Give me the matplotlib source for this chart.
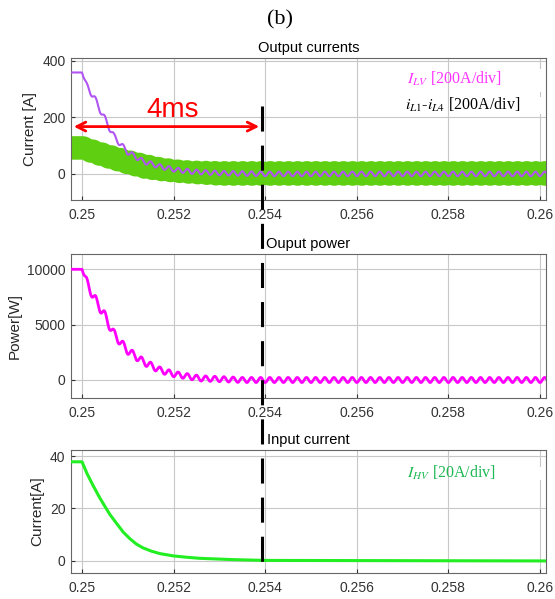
"""Fig (b): load-step transient - output currents, output power, input current."""
import matplotlib
matplotlib.use("Agg")
import matplotlib.pyplot as plt
from matplotlib.lines import Line2D
from matplotlib.patches import Rectangle
import numpy as np

plt.rcParams["font.family"] = ["Liberation Sans", "DejaVu Sans"]
plt.rcParams["mathtext.fontset"] = "stix"

# ---- values (time in s) ----
ripple_period = 0.0002

t_ilv = [0.2497, 0.2500, 0.2501, 0.25025, 0.25047, 0.2507, 0.25098, 0.25134, 0.2517, 0.25206, 0.2524, 0.2530, 0.2540, 0.2602]
ilv_mean = [358, 358, 312, 274, 203, 132, 79, 44, 26, 14, 8, 3, 0, 0]
ilv_ripple = [0, 0, 10, 11, 11, 10, 9, 8, 8, 8, 8, 8, 8, 8]

t_band = [0.2497, 0.2500, 0.25025, 0.2506, 0.25098, 0.25134, 0.2517, 0.25206, 0.2524, 0.2530, 0.2602]
band_upper = [135, 135, 121, 103, 85, 71, 58, 50, 46, 44, 44]
band_lower = [52, 52, 38, 20, 2, -13, -21, -27, -31, -37, -37]
band_ripple = 3

t_pow = [0.2497, 0.2500, 0.2501, 0.25025, 0.25047, 0.25069, 0.25098, 0.25134, 0.2517, 0.2520, 0.25257, 0.2535, 0.2602]
pow_mean = [10000, 10000, 8900, 7520, 6020, 4210, 2710, 1650, 900, 540, 150, 0, 0]
pow_ripple = [0, 0, 350, 400, 400, 380, 330, 300, 270, 250, 240, 230, 230]

t_ihv = [0.2497, 0.2500, 0.25005, 0.25011, 0.25025, 0.25039, 0.2505, 0.25061, 0.25076, 0.2509, 0.25105,
         0.25119, 0.25133, 0.25152, 0.2517, 0.2520, 0.25229, 0.25257, 0.2533, 0.2540, 0.2602]
ihv = [37.8, 37.8, 35.8, 33.3, 28.5, 24.0, 20.8, 17.7, 14.2, 11.0, 8.4,
       6.4, 5.0, 3.7, 2.8, 1.9, 1.4, 1.0, 0.5, 0.2, 0.0]

xticks = [0.25, 0.252, 0.254, 0.256, 0.258, 0.26]
xticklabels = ["0.25", "0.252", "0.254", "0.256", "0.258", "0.26"]
t_step_end = 0.25393

# ---- waveforms (mean trace + switching ripple) ----
t = np.linspace(0.2497, 0.2602, 5000)
ph = np.sin(2 * np.pi * (t - 0.25) / ripple_period - np.pi / 2)
ilv_w = np.interp(t, t_ilv, ilv_mean) + np.interp(t, t_ilv, ilv_ripple) * ph
pow_w = np.interp(t, t_pow, pow_mean) + np.interp(t, t_pow, pow_ripple) * ph
on = (t > 0.25).astype(float)
up_w = np.interp(t, t_band, band_upper) + band_ripple * on * np.abs(np.sin(np.pi * (t - 0.25) / ripple_period))
lo_w = np.interp(t, t_band, band_lower) - band_ripple * on * np.abs(np.sin(np.pi * (t - 0.25) / ripple_period))

fig = plt.figure(figsize=(5.55, 5.99), dpi=100)
W, H = 555, 599
ax1 = fig.add_axes([71 / W, 1 - 200 / H, 475 / W, 142 / H])
ax2 = fig.add_axes([71 / W, 1 - 398 / H, 475 / W, 144 / H])
ax3 = fig.add_axes([71 / W, 1 - 573 / H, 475 / W, 123 / H])

ax1.fill_between(t, lo_w, up_w, color="#5fcf12", lw=0, zorder=2)
ax1.plot(t, ilv_w, color="#b054f2", lw=1.5, zorder=3)
ax2.plot(t, pow_w, color="#ff00ff", lw=2.0, zorder=3)
ax3.plot(t_ihv, ihv, color="#22ee22", lw=2.2, zorder=3)

for ax, title, yl, yt, ylim in [
    (ax1, "Output currents", "Current [A]", [0, 200, 400], (-92, 409)),
    (ax2, "Ouput power", "Power[W]", [0, 5000, 10000], (-1626, 11380)),
    (ax3, "Input current", "Current[A]", [0, 20, 40], (-4.6, 42.3)),
]:
    ax.set_xlim(0.24976, 0.26013)
    ax.set_ylim(*ylim)
    ax.set_xticks(xticks, xticklabels)
    ax.set_yticks(yt)
    ax.set_title(title, fontsize=10.5, pad=4.5)
    ax.set_ylabel(yl, fontsize=11, color="#262626")
    ax.grid(True, color="#c8c8c8", lw=0.8)
    ax.set_axisbelow(True)
    ax.tick_params(direction="in", length=3, labelsize=10, colors="#333333", pad=4)
    ax.tick_params(axis="x", pad=6)
    for s in ax.spines.values():
        s.set_color("#666666")
        s.set_linewidth(0.8)

# legend-like labels (white patches hide the last grid line like the original)
ax1.add_patch(Rectangle((0.2598, 288), 0.00029, 81, color="white", lw=0, zorder=1))
ax1.add_patch(Rectangle((0.2598, 213), 0.00029, 60, color="white", lw=0, zorder=1))
ax3.add_patch(Rectangle((0.2598, 30.9), 0.00029, 4.9, color="white", lw=0, zorder=1))
ax1.text(0.2571, 334, r"$I_{LV}$ [200A/div]", color="#ff33ff", fontsize=11.5,
         family="Liberation Serif", va="center", zorder=4)
ax1.text(0.25705, 245, r"$i_{L1}$-$i_{L4}$ [200A/div]", color="black", fontsize=11.5,
         family="Liberation Serif", va="center", zorder=4)
ax3.text(0.2571, 33.5, r"$I_{HV}$ [20A/div]", color="#1db954", fontsize=11.5,
         family="Liberation Serif", va="center", zorder=4)

# 4 ms settling annotation
ax1.annotate("", xy=(t_step_end, 167), xytext=(0.24976, 167),
             arrowprops=dict(arrowstyle="<->", color="red", lw=2, mutation_scale=16),
             annotation_clip=False, zorder=5)
ax1.text(0.25197, 227, "4ms", color="red", fontsize=20, ha="center", va="center", zorder=5)

# dashed marker spanning all panels
fx = fig.transFigure.inverted().transform(ax1.transData.transform((t_step_end, 0)))[0]
vline = Line2D([fx, fx], [1 - 106 / H, 1 - 566 / H], transform=fig.transFigure,
               color="black", lw=2.2, dashes=(8.2, 4.6), zorder=10)
fig.add_artist(vline)

fig.text(0.504, 1 - 20 / H, "(b)", family="Liberation Serif", fontsize=16, ha="center", va="center")

fig.savefig("out.png", dpi=100)
